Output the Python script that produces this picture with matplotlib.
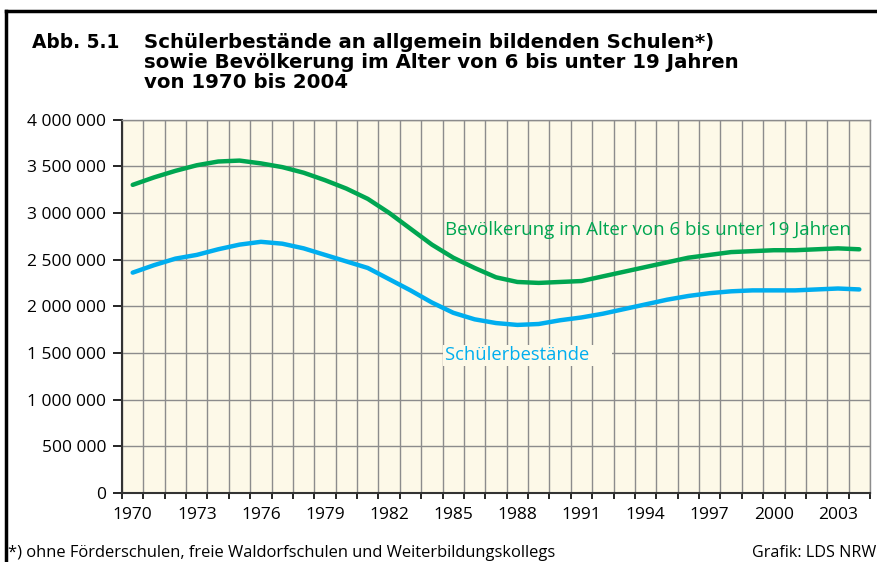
import matplotlib.pyplot as plt
from matplotlib.lines import Line2D
from matplotlib.ticker import FuncFormatter, MultipleLocator

plt.rcParams['font.family'] = ['Open Sans', 'DejaVu Sans']

years = list(range(1970, 2005))
bevoelkerung = [3300000, 3380000, 3450000, 3510000, 3550000, 3560000, 3530000,
                3490000, 3430000, 3350000, 3260000, 3150000, 3000000, 2830000,
                2660000, 2520000, 2410000, 2310000, 2260000, 2250000, 2260000,
                2270000, 2320000, 2370000, 2420000, 2470000, 2520000, 2550000,
                2580000, 2590000, 2600000, 2600000, 2610000, 2620000, 2610000]
schueler = [2360000, 2440000, 2510000, 2550000, 2610000, 2660000, 2690000,
            2670000, 2620000, 2550000, 2480000, 2410000, 2290000, 2170000,
            2040000, 1930000, 1860000, 1820000, 1800000, 1810000, 1850000,
            1880000, 1920000, 1970000, 2020000, 2070000, 2110000, 2140000,
            2160000, 2170000, 2170000, 2170000, 2180000, 2190000, 2180000]
x_labels = list(range(1970, 2004, 3))

title_lines = ['Schülerbestände an allgemein bildenden Schulen*)',
               'sowie Bevölkerung im Alter von 6 bis unter 19 Jahren',
               'von 1970 bis 2004']

green = '#00a651'
blue = '#00aeef'
bg = '#fdf9e8'

W, H = 877, 562
fig = plt.figure(figsize=(8.77, 5.62), dpi=100)
ax = fig.add_axes([122 / W, 69 / H, 748 / W, 373.5 / H])
ax.set_facecolor(bg)

ax.plot(years, bevoelkerung, color=green, lw=3.2, solid_capstyle='round')
ax.plot(years, schueler, color=blue, lw=3.2, solid_capstyle='round')

ax.set_xlim(1969.5, 2004.5)
ax.set_ylim(0, 4000000)

# gridlines / ticks on the year boundaries, labels in the middle of each year
ax.set_xticks([y - 0.5 for y in years] + [2004.5])
ax.set_xticklabels([])
ax.set_xticks(x_labels, minor=True)
ax.set_xticklabels([str(y) for y in x_labels], minor=True)
ax.tick_params(axis='x', which='major', direction='out', length=4, width=1.2, color='black')
ax.tick_params(axis='x', which='minor', length=0, labelsize=12.5, pad=10)

ax.yaxis.set_major_locator(MultipleLocator(500000))
ax.yaxis.set_major_formatter(FuncFormatter(lambda v, p: f'{int(v):,}'.replace(',', ' ')))
ax.tick_params(axis='y', direction='out', length=6.5, width=1.2, color='black', labelsize=12.5, pad=5)

ax.grid(True, which='major', color='#8c8c8c', lw=1.0)
ax.set_axisbelow(True)
for side in ['top', 'right']:
    ax.spines[side].set_color('#8c8c8c')
    ax.spines[side].set_linewidth(1.0)
for side in ['left', 'bottom']:
    ax.spines[side].set_color('#333333')
    ax.spines[side].set_linewidth(1.5)

ax.text(1984.61, 2763000, 'Bevölkerung im Alter von 6 bis unter 19 Jahren',
        color=green, fontsize=13.5, ha='left', va='baseline')
ax.text(1984.61, 1424000, 'Schülerbestände\u2007\u2007', color=blue, fontsize=13.2,
        ha='left', va='baseline',
        bbox=dict(facecolor=bg, edgecolor='none', pad=1))

fig.text(32 / W, 1 - 48 / H, 'Abb. 5.1', fontsize=13.4, fontweight='bold',
         family='DejaVu Sans', va='baseline')
for i, line in enumerate(title_lines):
    fig.text(144 / W, 1 - (48 + 20 * i) / H, line, fontsize=14.2, fontweight='bold',
             family='DejaVu Sans', va='baseline')

fig.text(8 / W, 1 - 557 / H, '*) ohne Förderschulen, freie Waldorfschulen und Weiterbildungskollegs',
         fontsize=11.9, va='baseline')
fig.text(876 / W, 1 - 557 / H, 'Grafik: LDS NRW', fontsize=11.6, va='baseline', ha='right')

fig.add_artist(Line2D([6 / W, 1], [1 - 11 / H, 1 - 11 / H], color='black', lw=2.5))
fig.add_artist(Line2D([6 / W, 6 / W], [0, 1 - 11 / H], color='black', lw=2.5))

fig.savefig('out.png', dpi=100)
